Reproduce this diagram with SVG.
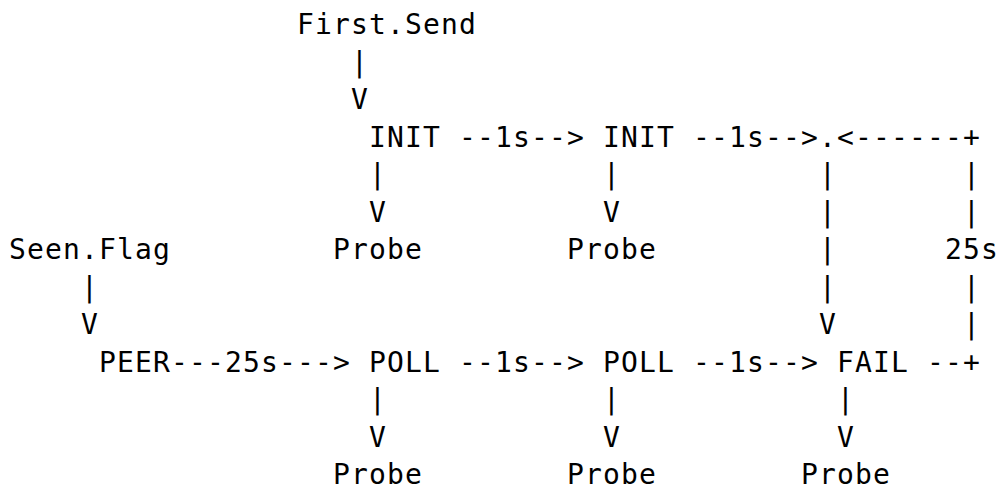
<svg xmlns="http://www.w3.org/2000/svg" width="1000" height="491" viewBox="0 0 1000 491">
<style>
text{font-family:"DejaVu Sans Mono","Liberation Mono",monospace;font-size:28px;letter-spacing:1.14px;fill:#000;white-space:pre}
</style>
<rect width="1000" height="491" fill="#fff"/>
<g id="first-send"><text x="297" y="34">First.Send</text></g>
<g id="seen-flag"><text x="9" y="259">Seen.Flag</text></g>
<g id="init1"><text x="369" y="146.5">INIT</text></g>
<g id="init2"><text x="603" y="146.5">INIT</text></g>
<g id="junction"><text x="819" y="146.5">.</text></g>
<g id="probe-init1"><text x="333" y="259">Probe</text></g>
<g id="probe-init2"><text x="567" y="259">Probe</text></g>
<g id="peer"><text x="99" y="371.5">PEER</text></g>
<g id="poll1"><text x="369" y="371.5">POLL</text></g>
<g id="poll2"><text x="603" y="371.5">POLL</text></g>
<g id="fail"><text x="837" y="371.5">FAIL</text></g>
<g id="probe-poll1"><text x="333" y="484">Probe</text></g>
<g id="probe-poll2"><text x="567" y="484">Probe</text></g>
<g id="probe-fail"><text x="801" y="484">Probe</text></g>
<g id="connectors">
<text x="351" y="71.5">|</text>
<text x="351" y="109">V</text>
<text x="459" y="146.5">--1s--&gt;</text>
<text x="693" y="146.5">--1s--&gt;</text>
<text x="837" y="146.5">&lt;------+</text>
<text x="369" y="184">|</text>
<text x="603" y="184">|</text>
<text x="819" y="184">|</text>
<text x="963" y="184">|</text>
<text x="369" y="221.5">V</text>
<text x="603" y="221.5">V</text>
<text x="819" y="221.5">|</text>
<text x="963" y="221.5">|</text>
<text x="819" y="259">|</text>
<text x="945" y="259">25s</text>
<text x="81" y="296.5">|</text>
<text x="819" y="296.5">|</text>
<text x="963" y="296.5">|</text>
<text x="81" y="334">V</text>
<text x="819" y="334">V</text>
<text x="963" y="334">|</text>
<text x="171" y="371.5">---25s---&gt;</text>
<text x="459" y="371.5">--1s--&gt;</text>
<text x="693" y="371.5">--1s--&gt;</text>
<text x="927" y="371.5">--+</text>
<text x="369" y="409">|</text>
<text x="603" y="409">|</text>
<text x="837" y="409">|</text>
<text x="369" y="446.5">V</text>
<text x="603" y="446.5">V</text>
<text x="837" y="446.5">V</text>
</g>
</svg>
